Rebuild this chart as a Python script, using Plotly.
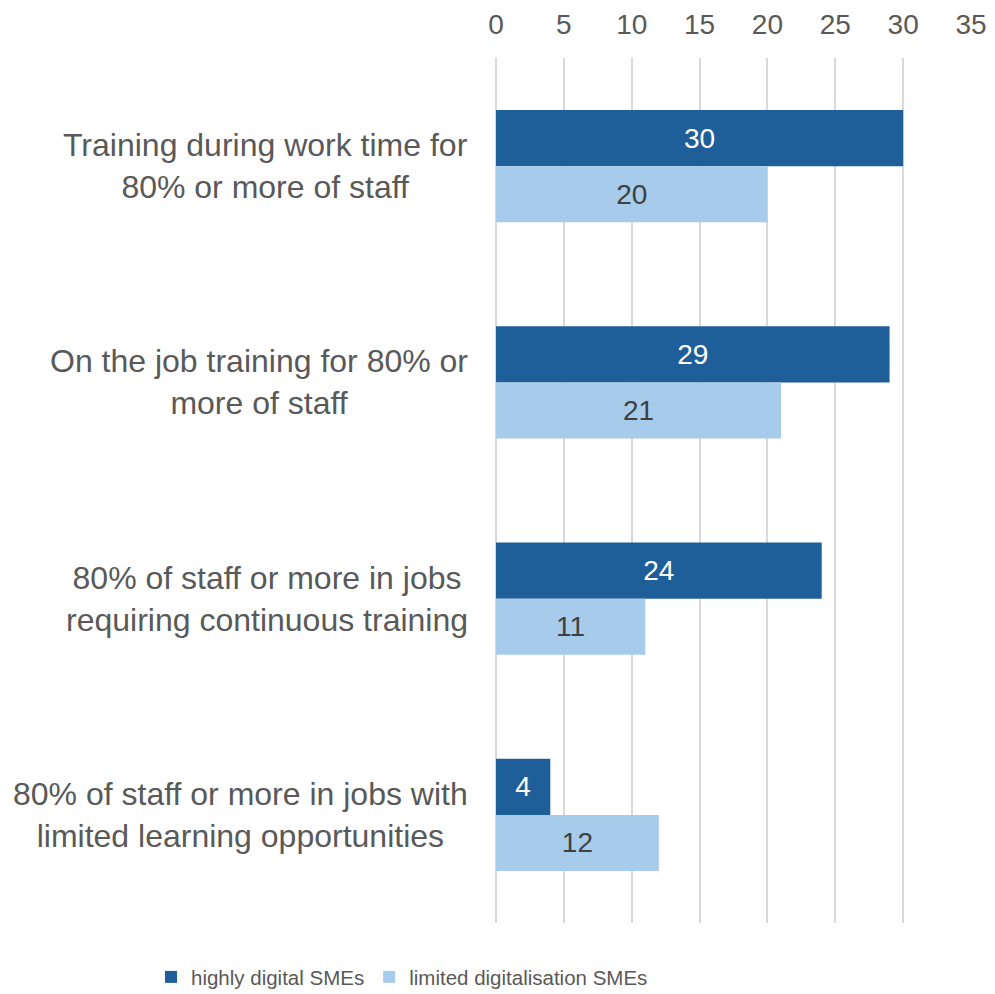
import plotly.graph_objects as go

categories = [
    "Training during work time for<br>80% or more of staff",
    "On the job training for 80% or<br>more of staff",
    "80% of staff or more in jobs<br>requiring continuous training",
    "80% of staff or more in jobs with<br>limited learning opportunities",
]
highly_digital = [30, 29, 24, 4]
limited_digital = [20, 21, 11, 12]
series_names = ["highly digital SMEs", "limited digitalisation SMEs"]
tick_vals = [0, 5, 10, 15, 20, 25, 30, 35]

FONT = "Arial, Liberation Sans, sans-serif"
DARK = "#1F5F99"
LIGHT = "#A7CBEB"

fig = go.Figure()
fig.add_trace(go.Bar(
    y=categories, x=highly_digital, orientation="h", name=series_names[0],
    marker=dict(color=DARK, line=dict(width=0)),
    text=[str(v) for v in highly_digital], textposition="inside",
    insidetextanchor="middle", textangle=0,
    textfont=dict(family=FONT, size=28, color="white"),
    cliponaxis=False,
))
fig.add_trace(go.Bar(
    y=categories, x=limited_digital, orientation="h", name=series_names[1],
    marker=dict(color=LIGHT, line=dict(width=0)),
    text=[str(v) for v in limited_digital], textposition="inside",
    insidetextanchor="middle", textangle=0,
    textfont=dict(family=FONT, size=28, color="#404040"),
    cliponaxis=False,
))

for c in categories:
    fig.add_annotation(
        x=-0.055, xref="paper", y=c, yref="y", text=c, showarrow=False,
        xanchor="right", yanchor="middle", align="center",
        font=dict(family=FONT, size=32, color="#595959"),
    )

fig.update_layout(
    width=987, height=986,
    margin=dict(l=488, r=24, t=50, b=71, autoexpand=False),
    paper_bgcolor="white", plot_bgcolor="white",
    barmode="group", bargap=0.48, bargroupgap=0,
    font=dict(family=FONT, color="#595959"),
    xaxis=dict(
        side="top", range=[0, 35], tickvals=tick_vals, automargin=False,
        showgrid=True, gridcolor="#D9D9D9", gridwidth=1.5,
        zeroline=True, zerolinecolor="#D9D9D9", zerolinewidth=1.5,
        showline=False, ticks="", ticklabelstandoff=17,
        tickfont=dict(family=FONT, size=28, color="#595959"),
    ),
    yaxis=dict(
        autorange="reversed", showticklabels=False, showgrid=False,
        zeroline=False, showline=False, ticks="", automargin=False,
    ),
    legend=dict(
        orientation="h", x=-0.7263, xanchor="left", xref="paper",
        y=-0.0625, yanchor="middle", yref="paper",
        font=dict(family=FONT, size=20.5, color="#595959"),
        itemwidth=30, traceorder="normal",
    ),
)

fig.write_html("out.html")
